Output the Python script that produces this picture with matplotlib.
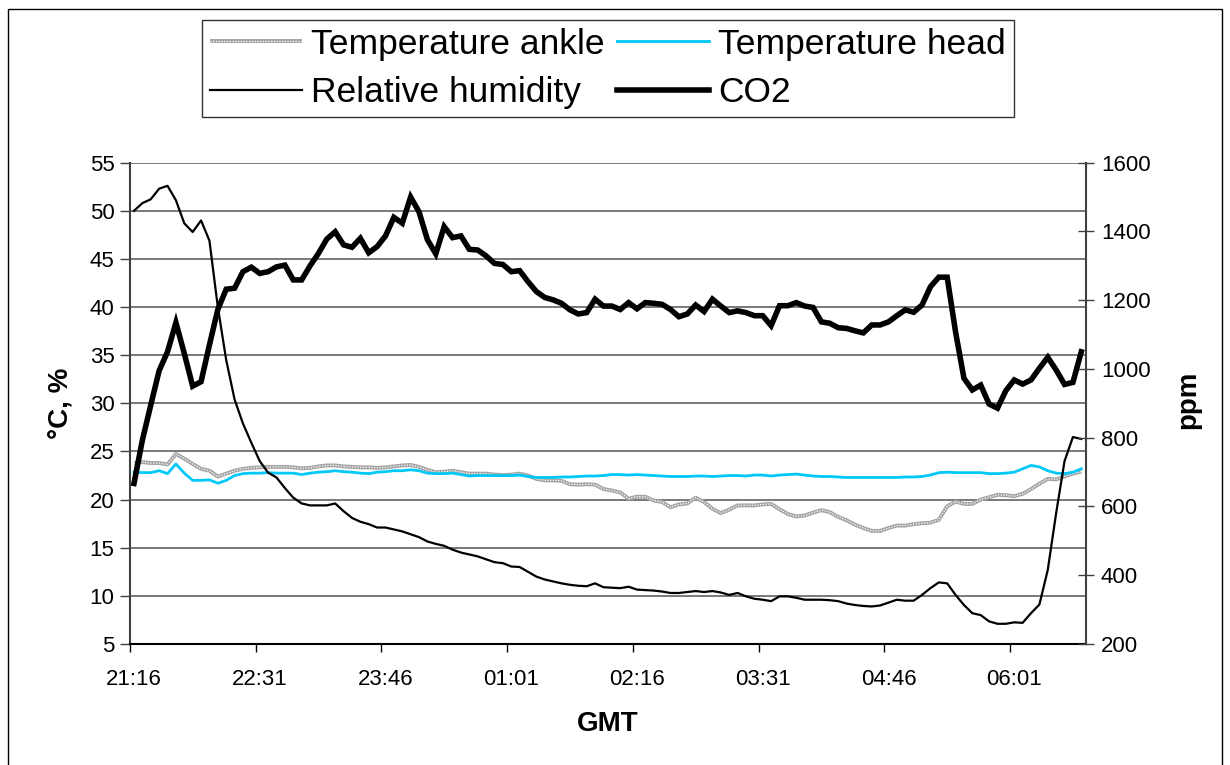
import matplotlib
matplotlib.use("Agg")
import matplotlib.pyplot as plt
from matplotlib.patches import Rectangle
from matplotlib.legend_handler import HandlerTuple

plt.rcParams['font.family'] = ['Liberation Sans', 'DejaVu Sans']

tick_labels = ['21:16', '22:31', '23:46', '01:01', '02:16', '03:31', '04:46', '06:01']

rel_humidity = [
    50.0, 50.8, 51.2, 52.3, 52.6, 51.1, 48.7, 47.8, 49.0, 46.9,
    40.0, 34.5, 30.4, 27.9, 25.9, 24.0, 22.8, 22.3, 21.2, 20.2,
    19.6, 19.4, 19.4, 19.4, 19.6, 18.8, 18.1, 17.7, 17.45, 17.1,
    17.1, 16.9, 16.7, 16.4, 16.1, 15.65, 15.4, 15.2, 14.8, 14.5,
    14.3, 14.1, 13.8, 13.5, 13.4, 13.05, 13.0, 12.5, 12.0, 11.7,
    11.5, 11.3, 11.15, 11.05, 11.0, 11.3, 10.9, 10.85, 10.8, 10.95,
    10.65, 10.6, 10.55, 10.45, 10.3, 10.3, 10.4, 10.5, 10.4, 10.5,
    10.35, 10.1, 10.3, 9.95, 9.7, 9.6, 9.45, 9.95, 9.95, 9.8,
    9.6, 9.6, 9.6, 9.55, 9.45, 9.2, 9.05, 8.95, 8.9, 9.0,
    9.3, 9.6, 9.5, 9.5, 10.1, 10.8, 11.4, 11.3, 10.1, 9.05,
    8.2, 8.0, 7.35, 7.1, 7.1, 7.25, 7.2, 8.2, 9.1, 12.7,
    18.6, 24.0, 26.5, 26.3,
]

co2 = [
    667, 793, 895, 995, 1050, 1135, 1045, 950, 963, 1070,
    1173, 1232, 1235, 1283, 1296, 1278, 1283, 1297, 1302, 1259,
    1259, 1300, 1336, 1378, 1399, 1361, 1354, 1380, 1338, 1356,
    1387, 1441, 1424, 1500, 1457, 1376, 1335, 1414, 1382, 1387,
    1348, 1346, 1329, 1307, 1304, 1283, 1286, 1254, 1225, 1208,
    1201, 1191, 1172, 1160, 1164, 1203, 1183, 1183, 1173, 1193,
    1175, 1193, 1191, 1188, 1173, 1152, 1160, 1186, 1167, 1203,
    1183, 1164, 1169, 1164, 1155, 1155, 1126, 1184, 1184, 1193,
    1183, 1179, 1137, 1133, 1120, 1118, 1111, 1105, 1128, 1128,
    1137, 1155, 1172, 1165, 1186, 1239, 1267, 1267, 1108, 973,
    939, 953, 898, 886, 937, 968, 956, 968, 1002, 1034,
    997, 955, 961, 1050,
]

temp_head = [
    22.85, 22.8, 22.8, 23.0, 22.7, 23.7, 22.75, 22.0, 22.0, 22.05,
    21.7, 22.0, 22.5, 22.7, 22.75, 22.75, 22.8, 22.75, 22.75, 22.75,
    22.6, 22.75, 22.85, 22.9, 23.0, 22.9, 22.85, 22.75, 22.7, 22.85,
    22.9, 23.0, 23.0, 23.1, 23.0, 22.75, 22.7, 22.7,
    22.75, 22.6, 22.45, 22.5, 22.5, 22.5, 22.5, 22.5, 22.55, 22.4,
    22.3, 22.3, 22.3, 22.35, 22.35, 22.4, 22.45, 22.45, 22.5, 22.6,
    22.6, 22.55, 22.6, 22.55, 22.5, 22.45, 22.4, 22.4, 22.4, 22.45,
    22.45, 22.4, 22.45, 22.5, 22.5, 22.45, 22.55, 22.55, 22.45, 22.55,
    22.6, 22.65, 22.55, 22.45, 22.4, 22.4, 22.35, 22.3, 22.3, 22.3,
    22.3, 22.3, 22.3, 22.3, 22.35, 22.35, 22.4, 22.55, 22.8, 22.85,
    22.8, 22.8, 22.8, 22.8, 22.7, 22.7, 22.75, 22.85, 23.2, 23.55,
    23.4, 23.0, 22.75, 22.7, 22.85, 23.2,
]

temp_ankle = [
    23.8, 23.9, 23.8, 23.8, 23.65, 24.75, 24.25, 23.7, 23.2, 23.0,
    22.4, 22.7, 23.0, 23.2, 23.3, 23.35, 23.4, 23.4, 23.4, 23.35,
    23.25, 23.3, 23.45, 23.55, 23.55, 23.45, 23.4, 23.35, 23.35, 23.3,
    23.35, 23.45, 23.55, 23.6, 23.4, 23.1, 22.85, 22.9,
    23.0, 22.85, 22.7, 22.7, 22.7, 22.6, 22.55, 22.6, 22.7, 22.5,
    22.15, 22.0, 22.0, 21.95, 21.6, 21.55, 21.6, 21.55, 21.1, 20.95,
    20.75, 20.1, 20.3, 20.3, 19.9, 19.75, 19.2, 19.5, 19.6, 20.2,
    19.75, 19.05, 18.6, 18.95, 19.4, 19.4, 19.4, 19.5, 19.55, 19.0,
    18.5, 18.25, 18.35, 18.65, 18.9, 18.7, 18.2, 17.85, 17.4, 17.05,
    16.75, 16.75, 17.05, 17.3, 17.3, 17.45, 17.55, 17.6, 17.9, 19.3,
    19.8, 19.55, 19.55, 20.0, 20.25, 20.5, 20.45, 20.35, 20.6, 21.1,
    21.65, 22.15, 22.1, 22.4, 22.7, 22.9,
]

W, H = 1230, 765
fig = plt.figure(figsize=(W / 100, H / 100), dpi=100)

# chart-area border
fig.patches.append(Rectangle((8 / W, -0.05), (1222 - 8) / W, 1.05 - 9 / H,
                             transform=fig.transFigure, fill=False,
                             edgecolor='black', linewidth=1.0, zorder=0))

L, R, T, B = 129.8, 1085.5, 162.7, 644.0
ax = fig.add_axes([L / W, 1 - B / H, (R - L) / W, (B - T) / H])
ax2 = ax.twinx()

n = len(co2)
x = list(range(n))

ankle_base, = ax.plot(x, temp_ankle, color='#a4a4a4', lw=2.8, solid_capstyle='butt', zorder=3)
ankle_dots, = ax.plot(x, temp_ankle, color='white', lw=0.9, dashes=(1.0, 1.2), zorder=3.1)
head_line, = ax.plot(x, temp_head, color='#00c8f8', lw=2.0, zorder=3.2)
rh_line, = ax.plot(x, rel_humidity, color='black', lw=1.6, zorder=3.3)
co2_line, = ax2.plot(x, co2, color='black', lw=4.0, solid_joinstyle='miter', zorder=3)

ax.set_xlim(-0.5, n - 0.5)
ax.set_ylim(5, 55)
ax.set_yticks(range(5, 56, 5))
ax2.set_ylim(200, 1600)
ax2.set_yticks(range(200, 1601, 200))

ax.set_xticks([-0.5 + 15 * k for k in range(len(tick_labels))])
ax.set_xticklabels([''] * len(tick_labels))
ax.set_xticks([15 * k for k in range(len(tick_labels))], minor=True)
ax.set_xticklabels(tick_labels, minor=True)
ax.tick_params(axis='x', which='major', direction='out', length=6, width=1, color='black')
ax.tick_params(axis='x', which='minor', length=0, pad=18, labelsize=16)

ax.tick_params(axis='y', direction='out', length=7, width=1, labelsize=16, pad=4, color='#404040')
ax2.tick_params(axis='y', direction='inout', length=12, width=1, labelsize=16, pad=5, color='#404040')

ax.yaxis.grid(True, color='#555555', lw=1.1)
ax.set_axisbelow(True)

for a in (ax, ax2):
    a.spines['top'].set_visible(False)
    a.set_facecolor('none')
ax.spines['left'].set_color('#404040')
ax.spines['left'].set_linewidth(1.5)
ax2.spines['right'].set_color('#404040')
ax2.spines['right'].set_linewidth(1.5)
ax2.spines['left'].set_visible(False)
ax.spines['right'].set_visible(False)
ax.spines['bottom'].set_color('black')
ax.spines['bottom'].set_linewidth(1.5)
ax2.spines['bottom'].set_visible(False)

fig.text(60 / W, 1 - 403 / H, '°C, %', rotation=90, ha='center', va='center',
         fontsize=20, fontweight='bold')
fig.text(1188 / W, 1 - 400 / H, 'ppm', rotation=90, ha='center', va='center',
         fontsize=20, fontweight='bold')
fig.text(608 / W, 1 - 724 / H, 'GMT', ha='center', va='center',
         fontsize=20, fontweight='bold')

handles = [(ankle_base, ankle_dots), rh_line, head_line, co2_line]
labels = ['Temperature ankle', 'Relative humidity', 'Temperature head', 'CO2']
leg = fig.legend(handles, labels, ncol=2, loc='center',
                 bbox_to_anchor=((196 + 1020) / 2 / W, 1 - (18 + 119) / 2 / H),
                 handler_map={tuple: HandlerTuple(ndivide=1)},
                 fontsize=25.5, handlelength=2.6, handletextpad=0.25,
                 columnspacing=0.35, labelspacing=0.45, borderpad=0.22,
                 borderaxespad=0, frameon=True, fancybox=False, edgecolor='black')
leg.get_frame().set_linewidth(1.0)

fig.savefig('out.png', dpi=100)
